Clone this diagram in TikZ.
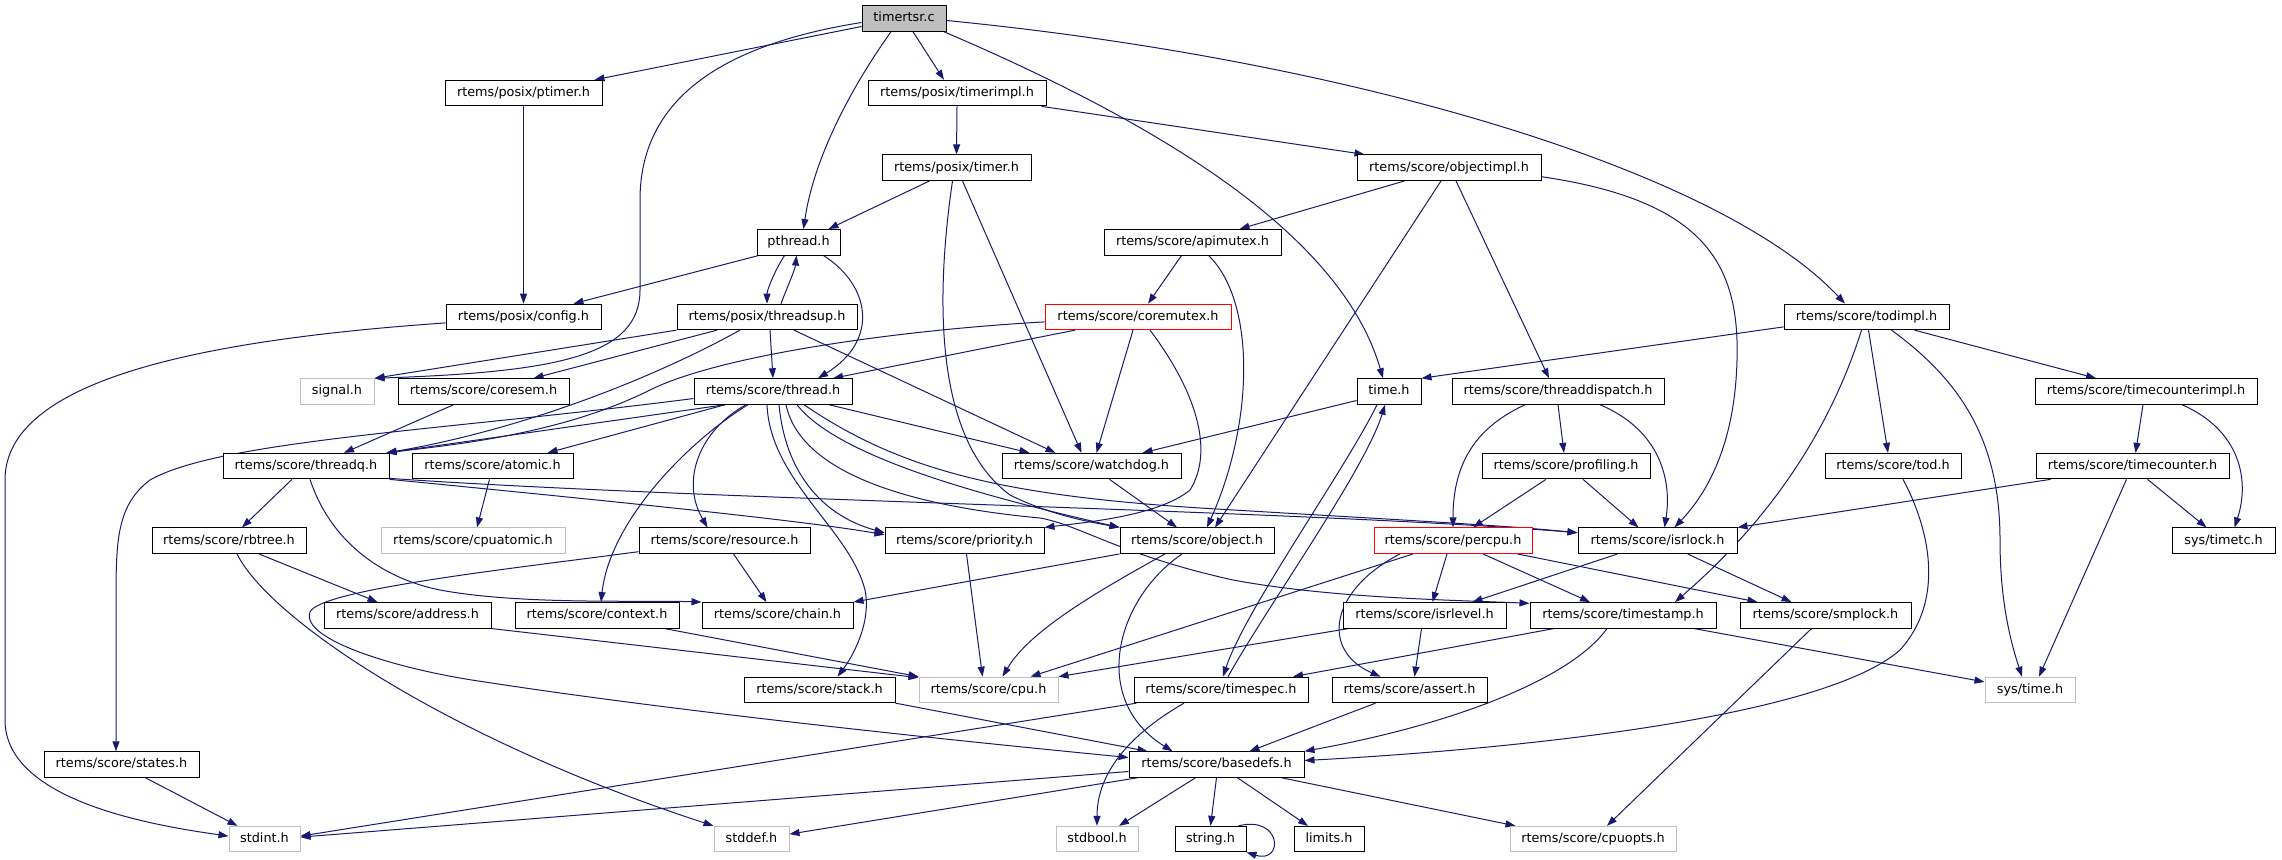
\documentclass[tikz,border=0pt]{standalone}
\usepackage{fontspec}
\setmainfont{DejaVu Sans}
\usetikzlibrary{arrows.meta}
\definecolor{edgeblue}{HTML}{191970}
\definecolor{greyb}{HTML}{BFBFBF}
\pgfdeclarelayer{bg}
\pgfsetlayers{bg,main}
\newcommand{\hnode}[6]{%
  \pgfmathsetmacro\nodeX{(#3+#4)/2}%
  \pgfmathsetmacro\nodeW{#4-#3}%
  \pgfmathsetmacro\nodeY{18.5+74.6*#5}%
  \node[#1, minimum width=\nodeW pt] (#2) at (\nodeX,\nodeY) {#6};%
}
\tikzset{
  box/.style={draw=black, line width=1pt, fill=white, inner sep=0pt, minimum height=25.5pt,
    text height=9.5pt, text depth=2.9pt, font=\fontsize{12.8pt}{15pt}\selectfont},
  grayb/.style={box, draw=greyb},
  redb/.style={box, draw=red},
  mainb/.style={box, fill=greyb},
  lnk/.style={draw=edgeblue, line width=1pt, -{Triangle[length=10pt,width=7pt]}}
}
\begin{document}
\begin{tikzpicture}[x=1pt,y=-1pt]
\useasboundingbox (0,0) rectangle (2282,859);
\hnode{mainb}{timertsr}{862}{946}{0}{timertsr.c}
\hnode{box}{ptimer}{445}{602}{1}{rtems/posix/ptimer.h}
\hnode{box}{timerimpl}{868}{1046}{1}{rtems/posix/timerimpl.h}
\hnode{box}{timer}{882}{1031}{2}{rtems/posix/timer.h}
\hnode{box}{objectimpl}{1357}{1541}{2}{rtems/score/objectimpl.h}
\hnode{box}{pthread}{757}{840}{3}{pthread.h}
\hnode{box}{apimutex}{1104}{1281}{3}{rtems/score/apimutex.h}
\hnode{box}{config}{446}{601}{4}{rtems/posix/config.h}
\hnode{box}{threadsup}{677}{857}{4}{rtems/posix/threadsup.h}
\hnode{redb}{coremutex}{1045}{1231}{4}{rtems/score/coremutex.h}
\hnode{box}{todimpl}{1784}{1949}{4}{rtems/score/todimpl.h}
\hnode{grayb}{signal}{300}{374}{5}{signal.h}
\hnode{box}{coresem}{398}{569}{5}{rtems/score/coresem.h}
\hnode{box}{thread}{694}{852}{5}{rtems/score/thread.h}
\hnode{box}{time}{1357}{1421}{5}{time.h}
\hnode{box}{threaddispatch}{1452}{1664}{5}{rtems/score/threaddispatch.h}
\hnode{box}{timecounterimpl}{2035}{2257}{5}{rtems/score/timecounterimpl.h}
\hnode{box}{threadq}{223}{389}{6}{rtems/score/threadq.h}
\hnode{box}{atomic}{412}{573}{6}{rtems/score/atomic.h}
\hnode{box}{watchdog}{1002}{1181}{6}{rtems/score/watchdog.h}
\hnode{box}{profiling}{1482}{1650}{6}{rtems/score/profiling.h}
\hnode{box}{tod}{1825}{1961}{6}{rtems/score/tod.h}
\hnode{box}{timecounter}{2036}{2229}{6}{rtems/score/timecounter.h}
\hnode{box}{rbtree}{152}{306}{7}{rtems/score/rbtree.h}
\hnode{grayb}{cpuatomic}{381}{565}{7}{rtems/score/cpuatomic.h}
\hnode{box}{resource}{639}{810}{7}{rtems/score/resource.h}
\hnode{box}{priority}{885}{1044}{7}{rtems/score/priority.h}
\hnode{box}{object}{1120}{1274}{7}{rtems/score/object.h}
\hnode{redb}{percpu}{1374}{1532}{7}{rtems/score/percpu.h}
\hnode{box}{isrlock}{1578}{1737}{7}{rtems/score/isrlock.h}
\hnode{box}{timetc}{2172}{2275}{7}{sys/timetc.h}
\hnode{box}{address}{324}{491}{8}{rtems/score/address.h}
\hnode{box}{context}{515}{679}{8}{rtems/score/context.h}
\hnode{box}{chain}{702}{853}{8}{rtems/score/chain.h}
\hnode{box}{isrlevel}{1343}{1506}{8}{rtems/score/isrlevel.h}
\hnode{box}{timestamp}{1530}{1716}{8}{rtems/score/timestamp.h}
\hnode{box}{smplock}{1740}{1911}{8}{rtems/score/smplock.h}
\hnode{box}{stack}{744}{895}{9}{rtems/score/stack.h}
\hnode{grayb}{cpu}{919}{1058}{9}{rtems/score/cpu.h}
\hnode{box}{timespec}{1134}{1308}{9}{rtems/score/timespec.h}
\hnode{box}{assert}{1332}{1487}{9}{rtems/score/assert.h}
\hnode{grayb}{systime}{1985}{2075}{9}{sys/time.h}
\hnode{box}{states}{44}{199}{10}{rtems/score/states.h}
\hnode{box}{basedefs}{1129}{1304}{10}{rtems/score/basedefs.h}
\hnode{grayb}{stdint}{229}{300}{11}{stdint.h}
\hnode{grayb}{stddef}{714}{789}{11}{stddef.h}
\hnode{grayb}{stdbool}{1056}{1138}{11}{stdbool.h}
\hnode{box}{string}{1175}{1246}{11}{string.h}
\hnode{box}{limits}{1294}{1364}{11}{limits.h}
\hnode{grayb}{cpuopts}{1510}{1676}{11}{rtems/score/cpuopts.h}
\begin{pgfonlayer}{bg}
% timertsr.c
\draw[lnk] ([yshift=-8pt]timertsr.west) -- ([xshift=-8pt]ptimer.north east);
\draw[lnk] ([yshift=-4pt]timertsr.west) .. controls (720,45) and (640,100) .. (640,200) -- (640,290) .. controls (640,355) and (560,372) .. (signal.north east);
\draw[lnk] ([xshift=-13pt]timertsr.south) .. controls (860,75) and (815,150) .. ([xshift=5pt]pthread.north);
\draw[lnk] ([xshift=9pt]timertsr.south) -- ([xshift=-13pt]timerimpl.north);
\draw[lnk] ([xshift=40pt]timertsr.south) .. controls (1150,120) and (1340,230) .. ([xshift=-6pt]time.north);
\draw[lnk] ([yshift=-2pt]timertsr.east) .. controls (1350,60) and (1720,170) .. ([xshift=-21.5pt]todimpl.north);
% first levels
\draw[lnk] (ptimer.south) -- (config.north);
\draw[lnk] (timerimpl.south) -- (timer.north);
\draw[lnk] ([xshift=-5pt]timerimpl.south east) -- ([xshift=8pt]objectimpl.north west);
\draw[lnk] ([xshift=-27pt]timer.south) -- ([xshift=30pt]pthread.north);
\draw[lnk] ([xshift=-4pt]timer.south) .. controls (935,300) and (935,440) .. (1010,495) .. controls (1050,515) and (1090,522) .. (object.north west);
\draw[lnk] ([xshift=6pt]timer.south) -- ([xshift=-10pt]watchdog.north);
\draw[lnk] ([xshift=-44.5pt]objectimpl.south) -- ([xshift=47pt]apimutex.north);
\draw[lnk] ([xshift=-8pt]objectimpl.south) -- ([xshift=18pt]object.north);
\draw[lnk] ([xshift=7pt]objectimpl.south) -- ([xshift=-9pt]threaddispatch.north);
\draw[lnk] ([yshift=-9pt]objectimpl.east) .. controls (1700,200) and (1740,260) .. (1737,360) .. controls (1735,440) and (1710,490) .. ([xshift=17pt]isrlock.north);
\draw[lnk] ([xshift=-11pt]apimutex.south) -- ([xshift=10pt]coremutex.north);
\draw[lnk] ([xshift=16pt]apimutex.south) .. controls (1255,300) and (1255,420) .. ([xshift=10pt]object.north);
% pthread
\draw[lnk] ([xshift=2pt]pthread.south west) -- ([xshift=-28pt]config.north east);
\draw[lnk] ([xshift=-14pt]pthread.south) .. controls (775,270) and (767,290) .. (threadsup.north);
\draw[lnk] ([xshift=14pt]threadsup.north) .. controls (786,290) and (795,270) .. ([xshift=-2pt]pthread.south);
\draw[lnk] ([xshift=25pt]pthread.south) .. controls (870,285) and (880,340) .. ([xshift=45pt]thread.north);
% threadsup
\draw[lnk] (threadsup.south west) -- (signal.north east);
\draw[lnk] ([xshift=-50pt]threadsup.south) -- ([xshift=50pt]coresem.north);
\draw[lnk] ([xshift=-27pt]threadsup.south) .. controls (650,380) and (520,430) .. ([xshift=-3pt]threadq.north east);
\draw[lnk] ([xshift=3pt]threadsup.south) -- (thread.north);
\draw[lnk] ([xshift=27pt]threadsup.south) -- ([xshift=-36pt]watchdog.north);
% config
\draw[lnk] ([yshift=-6pt]config.west) .. controls (200,340) and (5,380) .. (5,480) -- (5,720) .. controls (5,800) and (150,825) .. ([yshift=3pt]stdint.west);
% coremutex
\draw[lnk] ([xshift=-63pt]coremutex.south) -- ([xshift=60pt]thread.north);
\draw[lnk] ([yshift=-5pt]coremutex.west) .. controls (900,330) and (720,355) .. (650,390) .. controls (560,435) and (450,445) .. ([xshift=-3pt]threadq.north east);
\draw[lnk] ([xshift=-5pt]coremutex.south) -- ([xshift=5pt]watchdog.north);
\draw[lnk] ([xshift=12pt]coremutex.south) .. controls (1195,390) and (1215,450) .. (1190,490) .. controls (1160,515) and (1090,522) .. (priority.north east);
% todimpl
\draw[lnk] ([yshift=-10pt]todimpl.west) -- (time.north east);
\draw[lnk] ([xshift=-5pt]todimpl.south) .. controls (1830,430) and (1770,520) .. ([xshift=52pt]timestamp.north);
\draw[lnk] ([xshift=2pt]todimpl.south) -- ([xshift=-5pt]tod.north);
\draw[lnk] ([xshift=25pt]todimpl.south) .. controls (1960,380) and (2000,440) .. (2000,540) .. controls (2000,600) and (2010,640) .. ([xshift=-8pt]systime.north);
\draw[lnk] ([xshift=48pt]todimpl.south) -- ([xshift=-50pt]timecounterimpl.north);
% coresem
\draw[lnk] ([xshift=-30pt]coresem.south) -- ([xshift=38pt]threadq.north);
% thread
\draw[lnk] ([xshift=-48pt]thread.south) -- ([xshift=-3pt]threadq.north east);
\draw[lnk] ([xshift=-48pt]thread.south) -- ([xshift=55pt]atomic.north);
\draw[lnk] ([yshift=-7pt]thread.west) .. controls (450,430) and (220,440) .. (150,480) .. controls (117,505) and (116,540) .. (116,600) -- ([xshift=-5.5pt]states.north);
\draw[lnk] ([xshift=-27pt]thread.south) .. controls (700,430) and (680,480) .. ([xshift=-17pt]resource.north);
\draw[lnk] ([xshift=-25pt]thread.south) .. controls (690,440) and (610,520) .. ([xshift=4pt]context.north);
\draw[lnk] ([xshift=-6pt]thread.south) .. controls (770,480) and (850,530) .. (865,590) .. controls (872,625) and (850,660) .. ([xshift=18pt]stack.north);
\draw[lnk] ([xshift=6pt]thread.south) .. controls (785,470) and (820,515) .. ([yshift=8pt]priority.west);
\draw[lnk] ([xshift=24pt]thread.south) .. controls (840,460) and (1000,500) .. (object.north west);
\draw[lnk] ([xshift=31pt]thread.south) .. controls (900,470) and (1000,495) .. (1200,508) .. controls (1400,520) and (1500,525) .. ([yshift=8pt]isrlock.west);
\draw[lnk] ([xshift=56pt]thread.south) -- ([xshift=-62pt]watchdog.north);
\draw[lnk] ([xshift=13pt]thread.south) .. controls (800,470) and (900,505) .. (1040,518) .. controls (1080,525) and (1120,555) .. (1233,580) .. controls (1330,598) and (1450,600) .. ([yshift=12pt]timestamp.west);
% threadq
\draw[lnk] (threadq.south east) .. controls (600,500) and (800,520) .. ([yshift=6pt]priority.west);
\draw[lnk] ([yshift=1pt]threadq.south east) .. controls (700,500) and (1300,510) .. ([yshift=8pt]isrlock.west);
\draw[lnk] ([xshift=-14pt]threadq.south) -- ([xshift=13pt]rbtree.north);
\draw[lnk] ([xshift=4pt]threadq.south) .. controls (330,540) and (380,578) .. (440,590) .. controls (520,605) and (640,600) .. (chain.north west);
% atomic, watchdog, time
\draw[lnk] ([xshift=-3pt]atomic.south) -- ([xshift=4pt]cpuatomic.north);
\draw[lnk] ([xshift=18pt]watchdog.south) -- ([xshift=-20pt]object.north);
\draw[lnk] ([yshift=-9pt]time.west) -- ([xshift=51pt]watchdog.north);
\draw[lnk] ([xshift=-12pt]time.south) .. controls (1345,470) and (1245,610) .. ([xshift=2pt]timespec.north);
\draw[lnk] ([xshift=7pt]timespec.north) .. controls (1265,610) and (1365,470) .. ([xshift=-4pt]time.south);
% threaddispatch, profiling
\draw[lnk] ([xshift=-33pt]threaddispatch.south) .. controls (1470,430) and (1453,470) .. (percpu.north);
\draw[lnk] (threaddispatch.south) -- ([xshift=-2pt]profiling.north);
\draw[lnk] ([xshift=42pt]threaddispatch.south) .. controls (1660,430) and (1672,480) .. ([xshift=7pt]isrlock.north);
\draw[lnk] ([xshift=-20pt]profiling.south) -- ([xshift=20pt]percpu.north);
\draw[lnk] ([xshift=17pt]profiling.south) -- ([xshift=-19pt]isrlock.north);
% timecounter
\draw[lnk] ([xshift=-3pt]timecounterimpl.south) -- ([xshift=3pt]timecounter.north);
\draw[lnk] ([xshift=36pt]timecounterimpl.south) .. controls (2240,430) and (2250,480) .. ([xshift=11pt]timetc.north);
\draw[lnk] ([xshift=-82pt]timecounter.south) -- (isrlock.north east);
\draw[lnk] ([xshift=15pt]timecounter.south) -- ([xshift=-17pt]timetc.north);
\draw[lnk] ([xshift=-6pt]timecounter.south) -- ([xshift=9pt]systime.north);
% tod
\draw[lnk] ([xshift=10pt]tod.south) .. controls (1930,530) and (1945,600) .. (1900,650) .. controls (1820,720) and (1500,750) .. ([yshift=4pt]basedefs.east);
% rbtree, resource
\draw[lnk] ([xshift=30pt]rbtree.south) -- ([xshift=-30pt]address.north);
\draw[lnk] ([xshift=8pt]rbtree.south) .. controls (270,620) and (450,740) .. (stddef.north west);
\draw[lnk] ([xshift=9pt]resource.south) -- ([xshift=-11pt]chain.north);
\draw[lnk] ([yshift=-11pt]resource.west) .. controls (500,570) and (320,590) .. (310,612) .. controls (300,640) and (400,670) .. (485,682) .. controls (700,715) and (1000,745) .. ([yshift=7pt]basedefs.west);
% priority, object
\draw[lnk] ([xshift=2pt]priority.south) -- ([xshift=-6pt]cpu.north);
\draw[lnk] (object.south west) -- (chain.north east);
\draw[lnk] ([xshift=-32pt]object.south) .. controls (1100,590) and (1030,630) .. ([xshift=14pt]cpu.north);
\draw[lnk] ([xshift=-15pt]object.south) .. controls (1115,600) and (1090,700) .. ([xshift=-44pt]basedefs.north);
% percpu
\draw[lnk] ([xshift=-40pt]percpu.south) -- ([xshift=42pt]cpu.north);
\draw[lnk] ([xshift=-53pt]percpu.south) .. controls (1330,590) and (1320,650) .. ([xshift=-29pt]assert.north);
\draw[lnk] ([xshift=-6pt]percpu.south) -- ([xshift=8pt]isrlevel.north);
\draw[lnk] ([xshift=30pt]percpu.south) -- ([xshift=-33pt]timestamp.north);
\draw[lnk] ([xshift=-15pt]percpu.south east) -- ([xshift=-68pt]smplock.north);
% isrlock, isrlevel
\draw[lnk] ([xshift=-40pt]isrlock.south) -- ([xshift=48pt]isrlevel.north);
\draw[lnk] ([xshift=30pt]isrlock.south) -- ([xshift=-34pt]smplock.north);
\draw[lnk] ([xshift=6pt]isrlevel.south west) -- (cpu.north east);
\draw[lnk] ([xshift=-3pt]isrlevel.south) -- ([xshift=5pt]assert.north);
% timestamp, smplock
\draw[lnk] ([xshift=-69pt]timestamp.south) -- ([xshift=72pt]timespec.north);
\draw[lnk] ([xshift=-16pt]timestamp.south) .. controls (1570,680) and (1450,725) .. (basedefs.north east);
\draw[lnk] ([xshift=71pt]timestamp.south) -- ([yshift=8pt]systime.west);
\draw[lnk] ([xshift=-14pt]smplock.south) -- ([xshift=14pt]cpuopts.north);
% context, address, stack
\draw[lnk] ([xshift=-15pt]context.south east) -- (cpu.north west);
\draw[lnk] (address.south east) -- ([yshift=-1pt]cpu.north west);
\draw[lnk] (stack.south east) -- ([xshift=-69pt]basedefs.north);
% timespec, assert, states
\draw[lnk] ([xshift=3pt]timespec.south west) -- ([yshift=3pt]stdint.east);
\draw[lnk] ([xshift=-37pt]timespec.south) .. controls (1120,740) and (1097,780) .. (stdbool.north);
\draw[lnk] ([xshift=-34pt]assert.south) -- ([xshift=33pt]basedefs.north);
\draw[lnk] ([xshift=24pt]states.south) -- ([xshift=-27pt]stdint.north);
% basedefs
\draw[lnk] ([yshift=-7pt]basedefs.west) -- ([yshift=2pt]stdint.east);
\draw[lnk] ([xshift=9pt]basedefs.south west) -- ([yshift=5pt]stddef.east);
\draw[lnk] ([xshift=-21pt]basedefs.south) -- ([xshift=22pt]stdbool.north);
\draw[lnk] (basedefs.south) -- (string.north);
\draw[lnk] ([xshift=21pt]basedefs.south) -- ([xshift=-21pt]limits.north);
\draw[lnk] ([xshift=-23pt]basedefs.south east) -- ([xshift=6pt]cpuopts.north west);
\draw[lnk] ([xshift=-8pt]string.north east) .. controls (1282,815) and (1284,864) .. (string.south east);
\end{pgfonlayer}
\end{tikzpicture}
\end{document}
